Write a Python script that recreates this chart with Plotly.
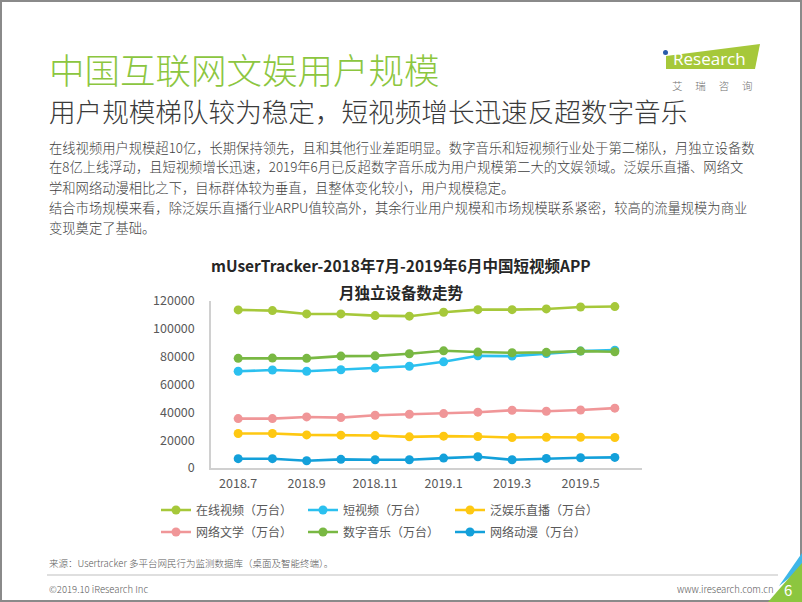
import plotly.graph_objects as go

# ---------------- data ----------------
months = ["2018.7", "2018.8", "2018.9", "2018.10", "2018.11", "2018.12",
          "2019.1", "2019.2", "2019.3", "2019.4", "2019.5", "2019.6"]
tick_labels = ["2018.7", "2018.9", "2018.11", "2019.1", "2019.3", "2019.5"]
y_ticks = [0, 20000, 40000, 60000, 80000, 100000, 120000]

online_video = [113600, 113100, 110700, 110700, 109500, 109100, 111900, 113800, 113800, 114300, 115700, 116000]
short_video = [69500, 70400, 69500, 70600, 71800, 73100, 76300, 80600, 80400, 82300, 84000, 84700]
live_ent = [24800, 24800, 23800, 23600, 23300, 22400, 22900, 22600, 21900, 22100, 22100, 21900]
net_literature = [35500, 35500, 36700, 36200, 37900, 38600, 39100, 40100, 41500, 40800, 41700, 43000]
digital_music = [78800, 79000, 78800, 80400, 80600, 82100, 84200, 83300, 82800, 83100, 84000, 83500]
net_animation = [6700, 6700, 5200, 6200, 5900, 5900, 7100, 8100, 5900, 6900, 7400, 7600]

series_names = ["在线视频（万台）", "短视频（万台）", "泛娱乐直播（万台）",
                "网络文学（万台）", "数字音乐（万台）", "网络动漫（万台）"]
series_values = [online_video, short_video, live_ent, net_literature, digital_music, net_animation]
series_colors = ["#a6c83a", "#2bc0ef", "#fec812", "#f09698", "#79b843", "#13a0da"]
series_legend = ["legend", "legend", "legend", "legend2", "legend2", "legend2"]

# ---------------- geometry helpers (page pixels -> paper) ----------------
W, H = 802, 602
L, R, T, B = 211, 642, 301, 468  # plot area in page pixels
PW, PH = R - L, B - T


def px(x):
    return (x - L) / PW


def py(y):
    return (B - y) / PH


CJK = "Noto Sans CJK SC"
TXT = "#404040"
GRAY = "#595959"

fig = go.Figure()
for name, vals, col, lg in zip(series_names, series_values, series_colors, series_legend):
    fig.add_trace(go.Scatter(
        x=months, y=vals, name=name, mode="lines+markers",
        line=dict(color=col, width=2.6),
        marker=dict(color=col, size=9),
        legend=lg,
        hoverinfo="x+y+name",
    ))

annotations = []


def text(x, y, s, size, color=TXT, anchor="left", bold=False, family=CJK, weight=None):
    if bold:
        s = "<b>" + s + "</b>"
    f = dict(family=family, size=size, color=color)
    if weight is not None:
        f["weight"] = weight
    annotations.append(dict(
        x=px(x), y=py(y), xref="paper", yref="paper", text=s, showarrow=False,
        xanchor=anchor, yanchor="middle", font=f,
    ))


# titles
text(47, 68, "中国互联网文娱用户规模", 35.5, color="#8cc63f", weight=300)
text(47, 110, "用户规模梯队较为稳定，短视频增长迅速反超数字音乐", 26.6, color="#3a3a3a", weight=300)

body = [
    "在线视频用户规模超10亿，长期保持领先，且和其他行业差距明显。数字音乐和短视频行业处于第二梯队，月独立设备数",
    "在8亿上线浮动，且短视频增长迅速，2019年6月已反超数字音乐成为用户规模第二大的文娱领域。泛娱乐直播、网络文",
    "学和网络动漫相比之下，目标群体较为垂直，且整体变化较小，用户规模稳定。",
    "结合市场规模来看，除泛娱乐直播行业ARPU值较高外，其余行业用户规模和市场规模联系紧密，较高的流量规模为商业",
    "变现奠定了基础。",
]
for i, line in enumerate(body):
    text(47, 147 + 20 * i, line, 13.3, weight=300)

# chart title
text(401, 265, "mUserTracker-2018年7月-2019年6月中国短视频APP", 15.5, color="#262626", anchor="center", bold=True)
text(401, 292, "月独立设备数走势", 15.5, color="#262626", anchor="center", bold=True)

# footer
text(47, 563, "来源：Usertracker 多平台网民行为监测数据库（桌面及智能终端）。", 9.5, color=GRAY, weight=300)
text(47, 589, "©2019.10 iResearch Inc", 9.5, color=GRAY, weight=300)
text(776, 589, "www.iresearch.com.cn", 9.5, color=GRAY, anchor="right", weight=300)

# logo text
text(709, 59, "Research", 17, color="white", anchor="center", family="Open Sans")
text(712, 85, "艾　 瑞　 咨　 询", 10.5, color="#707070", anchor="center", weight=300)

shapes = [
    # page frame
    dict(type="rect", xref="paper", yref="paper", x0=px(1), x1=px(801), y0=py(1), y1=py(601),
         line=dict(color="#8a8a8a", width=2), fillcolor="rgba(0,0,0,0)", layer="below"),
    # footer rule
    dict(type="line", xref="paper", yref="paper", x0=px(47), x1=px(778), y0=py(575), y1=py(575),
         line=dict(color="#bfbfbf", width=1)),
    # logo green block
    dict(type="path", xref="paper", yref="paper",
         path="M {} {} L {} {} L {} {} L {} {} Z".format(px(666), py(56), px(760), py(44), px(755), py(69), px(666), py(69)),
         fillcolor="#a6c83a", line=dict(width=0), layer="below"),
    # logo dot
    dict(type="circle", xref="paper", yref="paper", x0=px(663), x1=px(668), y0=py(50), y1=py(55),
         fillcolor="#2a5caa", line=dict(width=0)),
    # corner decoration
    dict(type="path", xref="paper", yref="paper",
         path="M {} {} L {} {} L {} {} Z".format(px(779), py(586), px(802), py(553), px(802), py(568)),
         fillcolor="#3fb6e8", line=dict(width=0)),
    dict(type="path", xref="paper", yref="paper",
         path="M {} {} L {} {} L {} {} Z".format(px(768), py(602), px(802), py(563), px(802), py(602)),
         fillcolor="#8cc63f", line=dict(width=0)),
]

fig.update_layout(
    width=W, height=H,
    margin=dict(l=L, r=W - R, t=T, b=H - B, autoexpand=False),
    paper_bgcolor="white", plot_bgcolor="white",
    font=dict(family=CJK, size=12, color=GRAY),
    showlegend=True,
    xaxis=dict(
        type="category", categoryorder="array", categoryarray=months,
        tickmode="array", tickvals=tick_labels, ticktext=tick_labels,
        showline=True, linecolor="#d0d0d0", linewidth=1.5,
        showgrid=False, zeroline=False, ticks="",
        tickfont=dict(family=CJK, size=12.5, color=GRAY),
        ticklabelstandoff=3,
    ),
    yaxis=dict(
        range=[0, 120000], tickmode="array", tickvals=y_ticks,
        ticktext=[str(v) for v in y_ticks],
        showline=True, linecolor="#d0d0d0", linewidth=1.5,
        showgrid=False, zeroline=False, ticks="",
        tickfont=dict(family=CJK, size=12.5, color=GRAY),
        ticklabelstandoff=12,
    ),
    legend=dict(
        orientation="h", x=px(156), y=py(510), xanchor="left", yanchor="middle",
        entrywidth=102, entrywidthmode="pixels",
        font=dict(family=CJK, size=12, color=GRAY), bgcolor="rgba(0,0,0,0)",
    ),
    legend2=dict(
        orientation="h", x=px(156), y=py(532), xanchor="left", yanchor="middle",
        entrywidth=102, entrywidthmode="pixels",
        font=dict(family=CJK, size=12, color=GRAY), bgcolor="rgba(0,0,0,0)",
    ),
    annotations=annotations + [dict(
        x=px(788), y=py(589), xref="paper", yref="paper", text="6", showarrow=False,
        xanchor="center", yanchor="middle", font=dict(family=CJK, size=15, color="white"))],
    shapes=shapes,
)

fig.write_html("out.html",
               config={"displayModeBar": False},
               post_script="document.body.style.margin='0';document.body.style.padding='0';document.body.style.overflow='hidden';")
